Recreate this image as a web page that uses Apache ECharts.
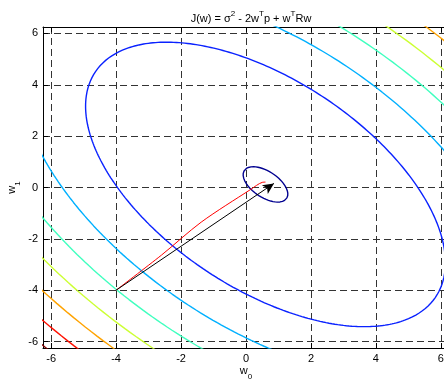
<!DOCTYPE html>
<html>
<head>
<meta charset="utf-8">
<script src="https://cdn.jsdelivr.net/npm/echarts@6/dist/echarts.min.js"></script>
<style>
html,body{margin:0;padding:0;background:#fff;}
#chart{width:444px;height:383px;}
</style>
</head>
<body>
<div id="chart"></div>
<script>
// ---- data ----
const xTicks = [-6, -4, -2, 0, 2, 4, 6];
const yTicks = [-6, -4, -2, 0, 2, 4, 6];
const axisMin = -6.25, axisMax = 6.25;
// quadratic error surface J(w) = sigma^2 - 2 w'p + w'Rw  (expressed via R and optimum w*)
const R = [[1, 0.55], [0.55, 1]];
const wOpt = [0.6, 0.12];
// contour levels, as J - Jmin
const contourLevels = [0.33, 21.4, 40, 58.5, 77, 95.5, 115, 133.5];
const contourColors = ['#000090', '#0a22ff', '#00b0ff', '#40ffbf', '#ccff33', '#ffa300', '#ff1000', '#800000'];
// red trajectory
const pathW0 = [-4, -2.6, -1.38, 0.15, 0.5, 0.6];
const pathW1 = [-4, -2.63, -1.35, -0.07, 0.2, 0.21];
// black arrow
const arrowFrom = [-4, -4];
const arrowTo = [0.86, 0.16];

// ---- contour geometry from the quadratic form ----
function eig2(M) {
  const a = M[0][0], b = M[0][1], d = M[1][1];
  const tr = a + d, det = a * d - b * b;
  const disc = Math.sqrt(tr * tr / 4 - det);
  const l1 = tr / 2 + disc, l2 = tr / 2 - disc;
  let v1 = Math.abs(b) > 1e-12 ? [b, l1 - a] : [1, 0];
  const n1 = Math.hypot(v1[0], v1[1]); v1 = [v1[0] / n1, v1[1] / n1];
  const v2 = [-v1[1], v1[0]];
  return { l: [l1, l2], v: [v1, v2] };
}
const E = eig2(R);
function contourPoints(k) {
  const pts = [];
  const N = 360;
  const s1 = Math.sqrt(k / E.l[0]), s2 = Math.sqrt(k / E.l[1]);
  for (let i = 0; i <= N; i++) {
    const t = 2 * Math.PI * i / N;
    const c = s1 * Math.cos(t), s = s2 * Math.sin(t);
    pts.push([wOpt[0] + c * E.v[0][0] + s * E.v[1][0], wOpt[1] + c * E.v[0][1] + s * E.v[1][1]]);
  }
  return pts;
}

const font = 'Liberation Sans, Arial, Helvetica, sans-serif';
const series = contourLevels.map((k, i) => ({
  type: 'line',
  data: contourPoints(k),
  showSymbol: false,
  symbol: 'none',
  clip: true,
  smooth: false,
  lineStyle: { color: contourColors[i], width: 1.4 },
  z: 3
}));
series.push({
  type: 'line',
  data: pathW0.map((x, i) => [x, pathW1[i]]),
  symbol: 'none',
  clip: true,
  smooth: 0.3,
  lineStyle: { color: '#ff0000', width: 1 },
  z: 4,
  markLine: {
    silent: true,
    symbol: ['none', 'arrow'],
    symbolSize: [8, 11],
    label: { show: false },
    lineStyle: { color: '#000', width: 1, type: 'solid' },
    data: [[{ coord: arrowFrom }, { coord: arrowTo }]],
    z: 5
  }
});

const axisCommon = {
  type: 'value',
  min: axisMin,
  max: axisMax,
  axisLine: { show: true, onZero: false, lineStyle: { color: '#000', width: 1 } },
  splitLine: { show: false }
};

const chart = echarts.init(document.getElementById('chart'), null, { renderer: 'canvas' });
chart.setOption({
  animation: false,
  backgroundColor: '#fff',
  title: {
    text: '{n|J(w) = σ}{p|2}{n| - 2w}{p|T}{n|p + w}{p|T}{n|Rw}',
    left: 246,
    top: 5,
    textAlign: 'center',
    textStyle: {
      fontWeight: 'normal',
      rich: {
        n: { fontFamily: font, fontSize: 11, fontWeight: 'normal', color: '#000', verticalAlign: 'bottom', lineHeight: 14 },
        p: { fontFamily: font, fontSize: 8, fontWeight: 'normal', color: '#000', verticalAlign: 'top', lineHeight: 14 }
      }
    }
  },
  grid: { left: 43, top: 27, width: 406, height: 321, containLabel: false, outerBoundsMode: 'none' },
  xAxis: [
    Object.assign({}, axisCommon, {
      position: 'bottom',
      axisTick: { show: true, inside: true, length: 5, lineStyle: { color: '#000' }, customValues: xTicks },
      axisLabel: { customValues: xTicks, color: '#000', fontFamily: font, fontSize: 11, margin: 5 },
      splitLine: { show: true, lineStyle: { color: '#333', type: [7, 4], width: 1 } },
      name: '{i|w}{s|0}',
      nameLocation: 'middle',
      nameGap: 17,
      nameMoveOverlap: false,
      nameTextStyle: {
        rich: {
          i: { fontFamily: font, fontSize: 11, color: '#000', verticalAlign: 'top', lineHeight: 16 },
          s: { fontFamily: font, fontSize: 8, color: '#000', verticalAlign: 'bottom', lineHeight: 16 }
        }
      }
    }),
    Object.assign({}, axisCommon, {
      position: 'top',
      axisTick: { show: true, inside: true, length: 5, lineStyle: { color: '#000' }, customValues: xTicks },
      axisLabel: { show: false }
    })
  ],
  yAxis: [
    Object.assign({}, axisCommon, {
      position: 'left',
      axisTick: { show: true, inside: true, length: 5, lineStyle: { color: '#000' }, customValues: yTicks },
      axisLabel: { customValues: yTicks, color: '#000', fontFamily: font, fontSize: 11, margin: 5 },
      splitLine: { show: true, lineStyle: { color: '#333', type: [7, 4], width: 1 } },
      name: '{i|w}{s|1}',
      nameLocation: 'middle',
      nameRotate: 90,
      nameGap: 21,
      nameMoveOverlap: false,
      nameTextStyle: {
        rich: {
          i: { fontFamily: font, fontSize: 11, color: '#000', verticalAlign: 'top', lineHeight: 16 },
          s: { fontFamily: font, fontSize: 8, color: '#000', verticalAlign: 'bottom', lineHeight: 16 }
        }
      }
    }),
    Object.assign({}, axisCommon, {
      position: 'right',
      axisTick: { show: true, inside: true, length: 5, lineStyle: { color: '#000' }, customValues: yTicks },
      axisLabel: { show: false }
    })
  ],
  series: series
});
</script>
</body>
</html>
